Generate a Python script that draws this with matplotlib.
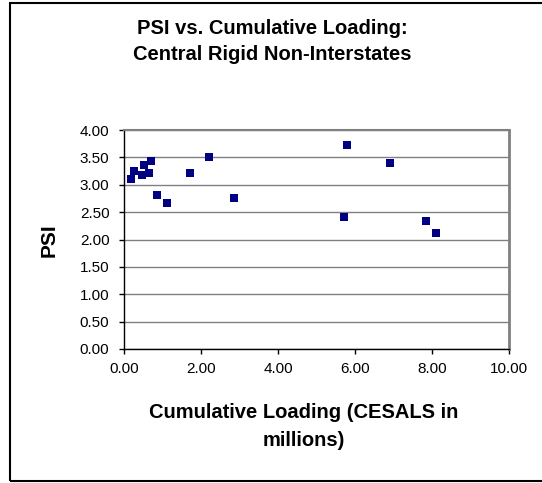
import matplotlib
matplotlib.use("Agg")
import matplotlib.pyplot as plt
from matplotlib.patches import Rectangle

plt.rcParams['font.family'] = ['Liberation Sans', 'DejaVu Sans']

loading = [0.17, 0.27, 0.48, 0.53, 0.65, 0.69, 0.85, 1.11, 1.72, 2.20, 2.87,
           5.78, 6.92, 5.72, 7.85, 8.11]
psi = [3.11, 3.25, 3.18, 3.36, 3.21, 3.43, 2.82, 2.67, 3.21, 3.51, 2.75,
       3.73, 3.40, 2.41, 2.34, 2.12]
x_ticks = [0, 2, 4, 6, 8, 10]
y_ticks = [0, 0.5, 1.0, 1.5, 2.0, 2.5, 3.0, 3.5, 4.0]
title_text = "PSI vs. Cumulative Loading:\nCentral Rigid Non-Interstates"
x_label = "Cumulative Loading (CESALS in\nmillions)"
y_label = "PSI"

W, H = 542, 483
fig = plt.figure(figsize=(W / 100, H / 100), dpi=100)
fig.patch.set_facecolor('white')

# outer chart border
fig.patches.append(Rectangle((10 / W, 2 / H), (W + 10) / W, (H - 5) / H,
                             transform=fig.transFigure, fill=False,
                             edgecolor='black', linewidth=1.5))

ax = fig.add_axes([124 / W, 1 - 349 / H, (509 - 124) / W, (349 - 130) / H])
ax.scatter(loading, psi, marker='s', s=30, color='#000080', zorder=3,
           linewidths=0)
ax.set_xlim(0, 10)
ax.set_ylim(0, 4)
ax.set_xticks(x_ticks)
ax.set_yticks(y_ticks)
ax.set_xticklabels([f"{v:.2f}" for v in x_ticks], fontsize=11)
ax.set_yticklabels([f"{v:.2f}" for v in y_ticks], fontsize=11)
ax.yaxis.grid(True, color='#808080', linewidth=1)
ax.set_axisbelow(True)
ax.tick_params(axis='both', direction='out', length=3.5, width=1, color='black')
ax.tick_params(axis='x', pad=6)
ax.tick_params(axis='y', pad=7)
for side in ['left', 'bottom']:
    ax.spines[side].set_color('black')
    ax.spines[side].set_linewidth(1)
ax.spines['top'].set_color('#808080')
ax.spines['top'].set_linewidth(1.5)
ax.spines['right'].set_color('#808080')
ax.spines['right'].set_linewidth(2)

fig.text(272 / W, 1 - 41.5 / H, title_text, ha='center', va='center',
         fontsize=14.5, fontweight='bold', linespacing=1.45)
fig.text(304 / W, 1 - 426 / H, x_label, ha='center', va='center',
         fontsize=14.5, fontweight='bold', linespacing=1.6)
fig.text(49 / W, 1 - 240 / H, y_label, ha='center', va='center',
         fontsize=15, fontweight='bold', rotation=90)

fig.savefig("out.png", dpi=100)
